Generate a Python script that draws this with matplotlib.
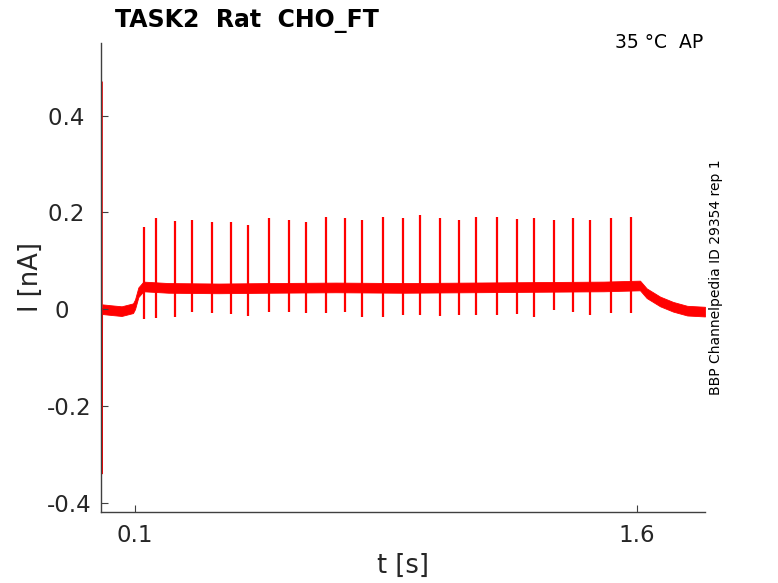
import matplotlib
matplotlib.use("Agg")
import matplotlib.pyplot as plt
import numpy as np

# ---- data ----
# initial capacitive transient (t in s, I in nA)
trans_t = [0.0, 0.0006, 0.0012, 0.0025]
trans_i = [0.0, 0.47, -0.34, 0.0]

# slow baseline current (mean of noisy trace)
base_t = [0.0025, 0.03, 0.06, 0.094, 0.100, 0.110, 0.125, 0.2, 0.35, 0.5, 0.7,
          0.9, 1.1, 1.3, 1.5, 1.609, 1.629, 1.669, 1.708, 1.75, 1.803]
base_i = [0.0, -0.002, -0.004, 0.002, 0.01, 0.035, 0.047, 0.044, 0.043, 0.044, 0.045,
          0.044, 0.045, 0.046, 0.047, 0.049, 0.033, 0.016, 0.005, -0.003, -0.005]
noise_half = 0.010  # half-width of the noise band

# action-current spikes
spike_t = [0.127, 0.163, 0.219, 0.270, 0.330, 0.386, 0.438, 0.500, 0.559, 0.611,
           0.672, 0.727, 0.779, 0.840, 0.900, 0.952, 1.011, 1.068, 1.119, 1.182,
           1.241, 1.292, 1.352, 1.410, 1.460, 1.522, 1.581]
spike_peak = [0.169, 0.188, 0.182, 0.184, 0.180, 0.180, 0.174, 0.188, 0.184, 0.181,
              0.190, 0.189, 0.184, 0.191, 0.188, 0.194, 0.188, 0.184, 0.191, 0.190,
              0.187, 0.188, 0.185, 0.189, 0.184, 0.189, 0.190]
spike_trough = [-0.021, -0.019, -0.017, -0.006, -0.008, -0.010, -0.014, -0.006, -0.005, -0.008,
                -0.008, -0.006, -0.016, -0.016, -0.013, -0.012, -0.015, -0.013, -0.012, -0.012,
                -0.009, -0.017, -0.001, -0.005, -0.013, -0.008, -0.008]

yticks = [-0.4, -0.2, 0, 0.2, 0.4]
ytick_labels = ["-0.4", "-0.2", "0   ", "0.2 ", "0.4 "]
xticks = [0.1, 1.6]
xtick_labels = ["0.1", "1.6"]

# ---- figure ----
W, H = 778, 583
fig = plt.figure(figsize=(W / 100, H / 100), dpi=100)
ax = fig.add_axes([101 / W, 1 - 512 / H, (705 - 101) / W, (512 - 43) / H])

red = "#ff0000"
bt = np.array(base_t)
bi = np.array(base_i)
ax.fill_between(bt, bi - noise_half, bi + noise_half, color=red, linewidth=0.6, edgecolor=red)
ax.plot(trans_t, trans_i, color=red, linewidth=1.0)
ax.vlines(spike_t, spike_trough, spike_peak, color=red, linewidth=1.6)

ax.set_xlim(-0.0016, 1.8032)
ax.set_ylim(-0.419, 0.550)

gray = "#262626"
for s in ["top", "right"]:
    ax.spines[s].set_visible(False)
for s in ["left", "bottom"]:
    ax.spines[s].set_color("#404040")
    ax.spines[s].set_linewidth(1.0)

ax.set_yticks(yticks)
ax.set_yticklabels(ytick_labels)
ax.set_xticks(xticks)
ax.set_xticklabels(xtick_labels)
ax.tick_params(axis="both", direction="in", length=5, width=0.8, color="#404040",
               labelsize=16.5, labelcolor=gray)
ax.tick_params(axis="y", pad=7)
ax.tick_params(axis="x", pad=9)

ax.set_xlabel("t [s]", fontsize=18.5, color=gray, labelpad=4)
ax.set_ylabel("I [nA]", fontsize=18.5, color=gray, labelpad=2)

fig.text(115 / W, 1 - 27 / H, "TASK2  Rat  CHO_FT", fontsize=17, fontweight="bold",
         ha="left", va="baseline", color="black")
fig.text(703 / W, 1 - 48 / H, "35 °C  AP", fontsize=13.5, ha="right", va="baseline",
         color="black")
fig.text(716 / W, 1 - 277.5 / H, "BBP Channelpedia ID 29354 rep 1", fontsize=10,
         rotation=90, ha="center", va="center", color="black")

fig.savefig("out.png", dpi=100)
